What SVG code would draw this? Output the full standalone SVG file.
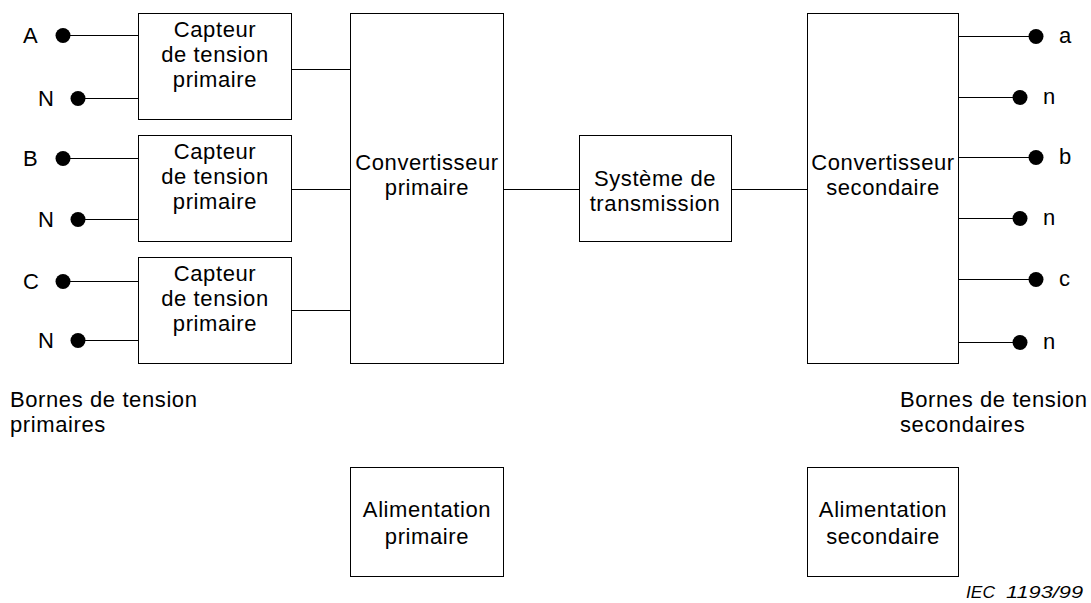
<svg xmlns="http://www.w3.org/2000/svg" width="1091" height="603" viewBox="0 0 1091 603">
<style>
  .box { fill: #fff; stroke: #000; stroke-width: 1; }
  .wire { stroke: #000; stroke-width: 1; fill: none; }
  .dot { fill: #000; }
  text { font-family: "Liberation Sans", Arial, sans-serif; font-size: 22px; fill: #000; letter-spacing: 0.6px; }
  .c { text-anchor: middle; }
  .note { font-size: 16px; font-style: italic; letter-spacing: 0; }
</style>
<rect width="1091" height="603" fill="#fff"/>

<g id="connectors">
  <line class="wire" x1="63" y1="35.5" x2="138" y2="35.5"/>
  <line class="wire" x1="78" y1="98.5" x2="138" y2="98.5"/>
  <line class="wire" x1="63" y1="158.5" x2="138" y2="158.5"/>
  <line class="wire" x1="78" y1="219.5" x2="138" y2="219.5"/>
  <line class="wire" x1="63" y1="281.5" x2="138" y2="281.5"/>
  <line class="wire" x1="78" y1="340.5" x2="138" y2="340.5"/>
  <line class="wire" x1="291" y1="69.5" x2="354" y2="69.5"/>
  <line class="wire" x1="291" y1="189.5" x2="350" y2="189.5"/>
  <line class="wire" x1="291" y1="310.5" x2="350" y2="310.5"/>
  <line class="wire" x1="503" y1="189.5" x2="579" y2="189.5"/>
  <line class="wire" x1="731" y1="189.5" x2="807" y2="189.5"/>
  <line class="wire" x1="958" y1="36.5" x2="1036" y2="36.5"/>
  <line class="wire" x1="958" y1="97.5" x2="1020" y2="97.5"/>
  <line class="wire" x1="958" y1="157.5" x2="1036" y2="157.5"/>
  <line class="wire" x1="958" y1="218.5" x2="1020" y2="218.5"/>
  <line class="wire" x1="958" y1="279.5" x2="1036" y2="279.5"/>
  <line class="wire" x1="958" y1="342.5" x2="1020" y2="342.5"/>
</g>

<g id="terminals-primary">
  <circle class="dot" cx="63" cy="35.5" r="7.5"/><text x="23" y="43">A</text>
  <circle class="dot" cx="78" cy="98.5" r="7.5"/><text x="38" y="106">N</text>
  <circle class="dot" cx="63" cy="158.5" r="7.5"/><text x="23" y="166">B</text>
  <circle class="dot" cx="78" cy="219.5" r="7.5"/><text x="38" y="227">N</text>
  <circle class="dot" cx="63" cy="281.5" r="7.5"/><text x="23" y="289">C</text>
  <circle class="dot" cx="78" cy="340.5" r="7.5"/><text x="38" y="348">N</text>
</g>

<g id="terminals-secondary">
  <circle class="dot" cx="1036" cy="36.5" r="7.5"/><text x="1059" y="43">a</text>
  <circle class="dot" cx="1020" cy="97.5" r="7.5"/><text x="1043" y="104">n</text>
  <circle class="dot" cx="1036" cy="157.5" r="7.5"/><text x="1059" y="164">b</text>
  <circle class="dot" cx="1020" cy="218.5" r="7.5"/><text x="1043" y="225">n</text>
  <circle class="dot" cx="1036" cy="279.5" r="7.5"/><text x="1059" y="286">c</text>
  <circle class="dot" cx="1020" cy="342.5" r="7.5"/><text x="1043" y="349">n</text>
</g>

<g id="capteur-A">
  <rect class="box" x="138.5" y="13.5" width="153" height="106"/>
  <text class="c" x="215" y="37">Capteur</text>
  <text class="c" x="215" y="62">de tension</text>
  <text class="c" x="215" y="87">primaire</text>
</g>
<g id="capteur-B">
  <rect class="box" x="138.5" y="135.5" width="153" height="106"/>
  <text class="c" x="215" y="159">Capteur</text>
  <text class="c" x="215" y="184">de tension</text>
  <text class="c" x="215" y="209">primaire</text>
</g>
<g id="capteur-C">
  <rect class="box" x="138.5" y="257.5" width="153" height="106"/>
  <text class="c" x="215" y="281">Capteur</text>
  <text class="c" x="215" y="306">de tension</text>
  <text class="c" x="215" y="331">primaire</text>
</g>

<g id="convertisseur-primaire">
  <rect class="box" x="350.5" y="13.5" width="153" height="350"/>
  <text class="c" x="427" y="170">Convertisseur</text>
  <text class="c" x="427" y="195">primaire</text>
</g>

<g id="systeme-transmission">
  <rect class="box" x="579.5" y="135.5" width="152" height="106"/>
  <text class="c" x="655" y="186">Système de</text>
  <text class="c" x="655" y="211">transmission</text>
</g>

<g id="convertisseur-secondaire">
  <rect class="box" x="807.5" y="13.5" width="151" height="350"/>
  <text class="c" x="883" y="170">Convertisseur</text>
  <text class="c" x="883" y="195">secondaire</text>
</g>

<g id="alimentation-primaire">
  <rect class="box" x="350.5" y="467.5" width="153" height="109"/>
  <text class="c" x="427" y="517">Alimentation</text>
  <text class="c" x="427" y="544">primaire</text>
</g>

<g id="alimentation-secondaire">
  <rect class="box" x="807.5" y="467.5" width="151" height="109"/>
  <text class="c" x="883" y="517">Alimentation</text>
  <text class="c" x="883" y="544">secondaire</text>
</g>

<g id="labels">
  <text x="10" y="407">Bornes de tension</text>
  <text x="10" y="432">primaires</text>
  <text x="900" y="407">Bornes de tension</text>
  <text x="900" y="432">secondaires</text>
  <text class="note" x="966" y="598" textLength="29" lengthAdjust="spacingAndGlyphs">IEC</text>
  <text class="note" x="1006" y="598" textLength="77" lengthAdjust="spacingAndGlyphs">1193/99</text>
</g>
</svg>
